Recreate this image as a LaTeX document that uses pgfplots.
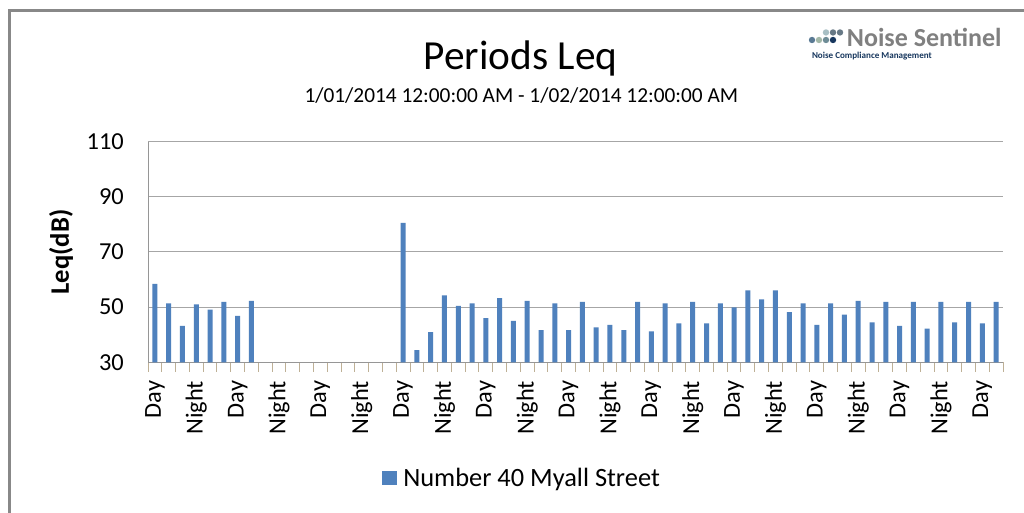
\documentclass[border=0pt]{standalone}
\usepackage{pgfplots}
\pgfplotsset{compat=1.18}
\usepackage{fontspec}
\setmainfont{Carlito}
\definecolor{barblue}{RGB}{79,129,189}
\definecolor{gridgray}{RGB}{166,166,166}
\definecolor{axgray}{RGB}{150,150,150}
\definecolor{ticktan}{RGB}{190,176,150}
\definecolor{framegray}{RGB}{136,136,136}
\definecolor{logogray}{RGB}{128,128,128}
\definecolor{logonavy}{RGB}{23,55,94}
\definecolor{dotA}{RGB}{168,191,196}
\definecolor{dotB}{RGB}{102,120,133}
\definecolor{dotC}{RGB}{90,122,148}
\definecolor{dotD}{RGB}{163,184,168}
\definecolor{dotE}{RGB}{110,140,150}
\begin{document}
\begin{tikzpicture}
\useasboundingbox (0,0) rectangle (768pt,384.75pt);
\fill[white] (0,0) rectangle (768pt,384.75pt);
\draw[framegray, line width=2.25pt] (7.125pt,0) -- (7.125pt,376.875pt) -- (768pt,376.875pt);
\begin{axis}[
  at={(111pt,113.03pt)}, anchor=south west,
  scale only axis, width=641.25pt, height=165.45pt,
  xmin=-0.5, xmax=61.5, ymin=30, ymax=110,
  ytick={30,50,70,90,110},
  ymajorgrids, grid style={gridgray, line width=0.75pt},
  axis x line*=bottom, axis y line*=left,
  axis line style={axgray, line width=0.75pt},
  xtick={0,3,...,60},
  xticklabels={Day,Night,Day,Night,Day,Night,Day,Night,Day,Night,Day,Night,Day,Night,Day,Night,Day,Night,Day,Night,Day},
  major tick length=0pt,
  minor xtick={-0.5,0.5,...,61.5},
  minor tick length=7.2pt,
  xtick align=inside,
  minor tick style={ticktan, line width=0.75pt},
  /pgf/number format/assume math mode=true,
  ticklabel style={font=\fontsize{18.3pt}{20pt}\selectfont, text=black},
  xticklabel style={rotate=90, anchor=east, inner xsep=13.8pt, inner ysep=0pt},
  yticklabel style={anchor=east, inner xsep=18pt, inner ysep=0pt},
  ybar, bar width=3.75pt,
  legend style={at={(0.4398,-0.5245)}, anchor=center, draw=none, fill=none,
    font=\fontsize{19.8pt}{21pt}\selectfont, inner sep=0pt,
    nodes={inner xsep=4.5pt}},
  legend image code/.code={\fill[barblue] (0pt,-5.6pt) rectangle (11.25pt,5.6pt);},
]
\addplot[fill=barblue, draw=none] coordinates {
(0,58.4) (1,51.4) (2,43.2) (3,51.0) (4,49.1) (5,51.9) (6,46.8) (7,52.3)
(18,80.6) (19,34.4) (20,40.9) (21,54.3) (22,50.5) (23,51.4) (24,46.0) (25,53.3)
(26,45.0) (27,52.3) (28,41.7) (29,51.4) (30,41.7) (31,51.9) (32,42.7) (33,43.6)
(34,41.7) (35,51.9) (36,41.2) (37,51.4) (38,44.1) (39,51.9) (40,44.1) (41,51.4)
(42,49.9) (43,56.1) (44,52.8) (45,56.1) (46,48.2) (47,51.4) (48,43.6) (49,51.4)
(50,47.3) (51,52.3) (52,44.5) (53,51.9) (54,43.2) (55,51.9) (56,42.2) (57,51.9)
(58,44.5) (59,51.9) (60,44.1) (61,51.9)
};
\addlegendentry{Number 40 Myall Street}
\end{axis}
\node[anchor=base] at (390.4pt,332.25pt) {\fontsize{31pt}{33pt}\selectfont Periods Leq};
\node[anchor=base] at (391pt,307.5pt) {\fontsize{16pt}{18pt}\selectfont 1/01/2014 12:00:00 AM - 1/02/2014 12:00:00 AM};
\node[rotate=90, anchor=center] at (45.75pt,195.75pt) {\fontsize{20pt}{22pt}\selectfont\bfseries Leq(dB)};
% logo
\node[anchor=base west, inner sep=0pt, text=logogray] at (635pt,349.7pt) {\fontsize{19.5pt}{21pt}\selectfont\bfseries Noise Sentinel};
\node[anchor=base west, inner sep=0pt, text=logonavy] at (608.8pt,341pt) {\fontsize{6.8pt}{8pt}\selectfont\bfseries Noise Compliance Management};
\fill[dotA] (619.5pt,360.4pt) circle (2.4pt);
\fill[dotB] (624.75pt,360.4pt) circle (2.4pt);
\fill[dotB] (630pt,360.4pt) circle (2.4pt);
\fill[dotC] (609pt,354.75pt) circle (2.4pt);
\fill[dotD] (614.25pt,354.75pt) circle (2.4pt);
\fill[dotE] (619.5pt,354.75pt) circle (2.4pt);
\fill[logonavy] (624.75pt,354.75pt) circle (2.4pt);
\end{tikzpicture}
\end{document}
